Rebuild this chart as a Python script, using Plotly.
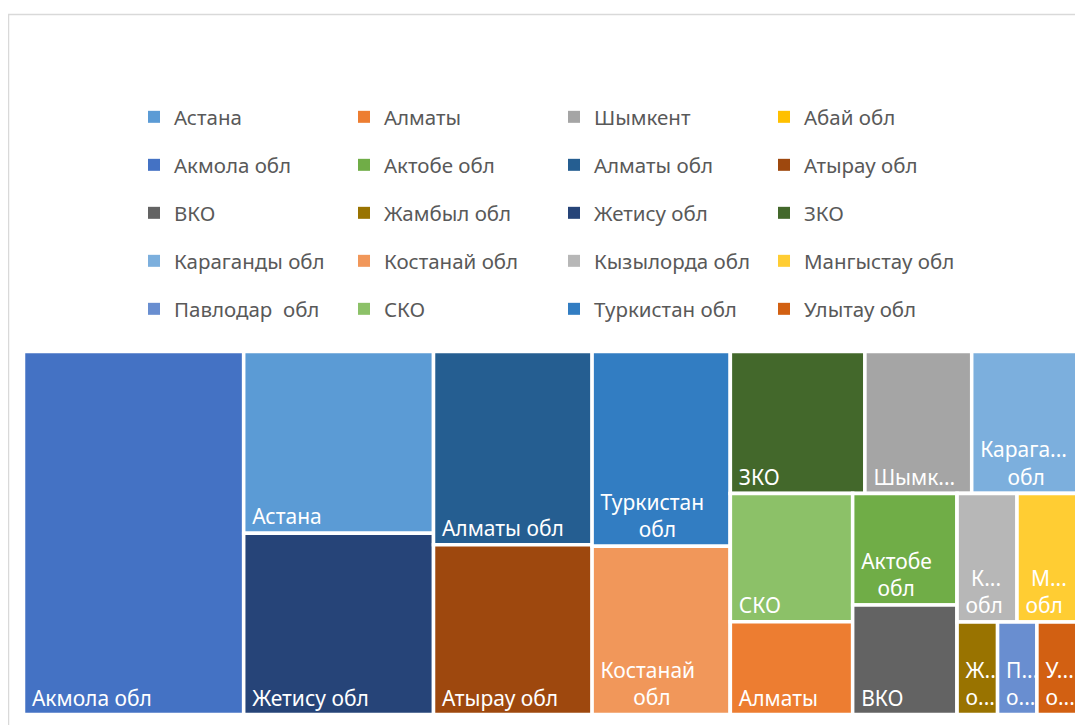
import plotly.graph_objects as go

# regions (legend order), values and colours
regions = ["Астана", "Алматы", "Шымкент", "Абай обл",
           "Акмола обл", "Актобе обл", "Алматы обл", "Атырау обл",
           "ВКО", "Жамбыл обл", "Жетису обл", "ЗКО",
           "Караганды обл", "Костанай обл", "Кызылорда обл", "Мангыстау обл",
           "Павлодар  обл", "СКО", "Туркистан обл", "Улытау обл"]
values = [341, 112, 150, 0,
          790, 115, 303, 266,
          113, 37, 340, 189,
          150, 230, 76, 78,
          36, 155, 266, 38]
colors = ["#5B9BD5", "#ED7D31", "#A5A5A5", "#FFC000",
          "#4472C4", "#70AD47", "#255E91", "#9E480E",
          "#636363", "#997300", "#264478", "#43682B",
          "#7CAFDD", "#F1975A", "#B7B7B7", "#FFCD33",
          "#698ED0", "#8CC168", "#327DC2", "#D26012"]
# labels as they appear inside the tiles ("|" = line break)
tile_text = ["Астана", "Алматы", "Шымк...", "",
             "Акмола обл", "Актобе|обл", "Алматы обл", "Атырау обл",
             "ВКО", "Ж...|о...", "Жетису обл", "ЗКО",
             "Карага...|обл", "Костанай|обл", "К...|обл", "М...|обл",
             "П...|о...", "СКО", "Туркистан|обл", "У...|о..."]

# grouping of the tiles as Excel arranged them (alternating columns / rows)
tiling_tree = ["Акмола обл",
               ["Астана", "Жетису обл"],
               ["Алматы обл", "Атырау обл"],
               ["Туркистан обл", "Костанай обл"],
               [["ЗКО", "Шымкент", "Караганды обл"],
                [["СКО", "Алматы"], ["Актобе обл", "ВКО"],
                 [["Кызылорда обл", "Мангыстау обл"],
                  ["Жамбыл обл", "Павлодар  обл", "Улытау обл"]]]]]

# page has an 8px body margin: shift reference pixels accordingly
OFF = 8
W, H = 1083 - OFF, 725 - OFF
FONT = "Noto Sans"
NB = "\u00a0"


def xp(px):
    return (px - OFF) / W


def yp(py):
    return 1 - (py - OFF) / H


def est_w(s):
    return sum(0.28 if c == "." else 0.58 for c in s)


def tile_label(t):
    # lines centred on each other, block kept at the left like Excel
    if not t:
        return ""
    lines = t.split("|")
    wmax = max(est_w(s) for s in lines)
    out = []
    for s in lines:
        pad = int(round((wmax - est_w(s)) / 2 / 0.26))
        out.append(NB + NB * pad + s)
    return "<br>".join(out)


val = dict(zip(regions, values))
col = dict(zip(regions, colors))
txt = dict(zip(regions, tile_text))

ids, labels, parents, tvals, tcols, ttext = [], [], [], [], [], []
counter = [0]


def walk(node, parent):
    if isinstance(node, str):
        ids.append(node)
        labels.append(node)
        parents.append(parent)
        tvals.append(val[node])
        tcols.append(col[node])
        ttext.append(tile_label(txt[node]))
    else:
        counter[0] += 1
        gid = f"grp{counter[0]}"
        ids.append(gid)
        labels.append("")
        parents.append(parent)
        tvals.append(0)
        tcols.append("white")
        ttext.append("")
        for child in node:
            walk(child, gid)


for node in tiling_tree:
    walk(node, "")

fig = go.Figure()

fig.add_trace(go.Treemap(
    ids=ids,
    labels=labels,
    parents=parents,
    values=tvals,
    branchvalues="remainder",
    text=ttext,
    texttemplate="%{text}",
    textposition="bottom left",
    textfont=dict(family=FONT, size=21, color="white"),
    marker=dict(colors=tcols, line=dict(color="white", width=3.5),
                pad=dict(t=0, l=0, r=0, b=0)),
    tiling=dict(packing="slice-dice", pad=0),
    pathbar=dict(visible=False),
    sort=False,
    hoverinfo="label+value",
    domain=dict(x=[xp(23.5), xp(1078.5)], y=[yp(714.5), yp(351.5)]),
))

# legend: 5 rows of 4 entries, one legend per row
row_y = [117, 165, 213, 261, 309]
for i, (name, c) in enumerate(zip(regions, colors)):
    row = i // 4
    lg = "legend" if row == 0 else f"legend{row + 1}"
    fig.add_trace(go.Scatter(
        x=[None], y=[None], mode="markers", name=name,
        marker=dict(symbol="square", size=12, color=c),
        legend=lg, showlegend=True, hoverinfo="skip",
    ))

legend_style = dict(
    orientation="h", xanchor="left", yanchor="middle",
    entrywidth=165, entrywidthmode="pixels",
    font=dict(family=FONT, size=20.5, color="#595959"),
    bgcolor="rgba(0,0,0,0)", itemclick=False, itemdoubleclick=False,
)
legends = {}
for r, yy in enumerate(row_y):
    key = "legend" if r == 0 else f"legend{r + 1}"
    legends[key] = dict(legend_style, x=xp(134), y=yp(yy))

fig.update_layout(
    width=W, height=H,
    margin=dict(l=0, r=0, t=0, b=0),
    paper_bgcolor="white", plot_bgcolor="white",
    xaxis=dict(visible=False), yaxis=dict(visible=False),
    uniformtext=dict(minsize=21, mode="show"),
    **legends,
)

# chart frame (cut off at the right and bottom like the reference)
fig.add_shape(type="rect", xref="paper", yref="paper",
              x0=xp(8.5), x1=1.05, y0=-0.05, y1=yp(14.5),
              line=dict(color="#D9D9D9", width=1.5), layer="below")

fig.write_html("out.html")
